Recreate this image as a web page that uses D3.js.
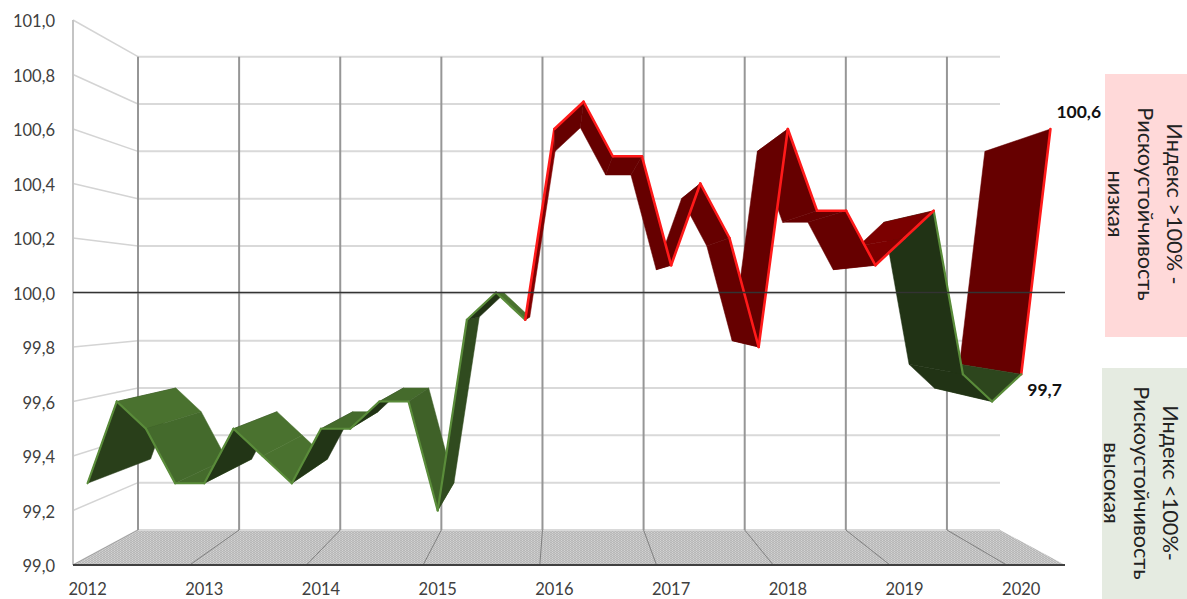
<!DOCTYPE html>
<html>
<head>
  <meta charset="utf-8">
  <title>index</title>
  <script src="https://d3js.org/d3.v7.min.js"></script>
  <style>
    html, body { margin: 0; padding: 0; background: #fff; overflow: hidden; }
    text { font-family: Lato, "Open Sans", sans-serif; }
  </style>
</head>
<body>
  <svg width="1187" height="599" id="mainsvg"></svg>
  <script>
    // quarterly index, 2012 Q1 .. 2020 Q2
    const values = [
      99.3, 99.6, 99.5, 99.3,
      99.3, 99.5, 99.4, 99.3,
      99.5, 99.5, 99.6, 99.6,
      99.2, 99.9, 100.0, 99.9,
      100.6, 100.7, 100.5, 100.5,
      100.1, 100.4, 100.2, 99.8,
      100.6, 100.3, 100.3, 100.1,
      100.2, 100.3, 99.7, 99.6,
      99.7, 100.6
    ];
    // 1 = segment starting at that quarter is in the high-index series
    const highSegment = [
      0, 0, 0, 0, 0, 0, 0, 0, 0, 0, 0, 0, 0, 0, 0,
      1, 1, 1, 1, 1, 1, 1, 1, 1, 1, 1, 1, 1, 1,
      0, 0, 0,
      1
    ];
    const years = ['2012', '2013', '2014', '2015', '2016', '2017', '2018', '2019', '2020'];
    const valueTicks = [99, 99.2, 99.4, 99.6, 99.8, 100, 100.2, 100.4, 100.6, 100.8, 101];
    const threshold = 100;
    const highLabels = ['Индекс >100% -', 'Рискоустойчивость', 'низкая'];
    const lowLabels = ['Индекс <100%-', 'Рискоустойчивость', 'высокая'];
    const endLabels = [{ i: 33, text: '100,6' }, { i: 32, text: '99,7' }];

    let svg = d3.select('#mainsvg');
    const idx = d3.range(values.length);

    // front plane and back wall of the 3d box
    const xFront = d3.scaleBand().domain(idx).range([73, 1065]);
    const xBack = d3.scaleBand().domain(idx).range([138, 997.5]);
    const yFront = d3.scaleLinear().domain([99, 101]).range([565, 20]);
    const yBack = d3.scaleLinear().domain([99, 101]).range([530, 56.7]);

    const front = i => [xFront(i) + xFront.bandwidth() / 2, yFront(values[i])];
    const back = i => [xBack(i) + xBack.bandwidth() / 2, yBack(values[i])];
    const comma = v => d3.format('.1f')(v).replace('.', ',');

    const line = (g, x1, y1, x2, y2, color, w) => g.append('line')
      .attr('x1', x1).attr('y1', y1).attr('x2', x2).attr('y2', y2)
      .attr('stroke', color).attr('stroke-width', w);

    // floor stipple
    const pat = svg.append('defs').append('pattern').attr('id', 'stipple')
      .attr('width', 3).attr('height', 2).attr('patternUnits', 'userSpaceOnUse');
    pat.append('rect').attr('width', 3).attr('height', 2).attr('fill', '#b8b8b8');
    pat.append('rect').attr('width', 1).attr('height', 1).attr('fill', '#d4d4d4');
    pat.append('rect').attr('x', 1.5).attr('y', 1).attr('width', 1).attr('height', 1).attr('fill', '#d4d4d4');

    const walls = svg.append('g');
    walls.append('path')
      .attr('d', d3.line()([[73, 565], [1065, 565], [1000, 530], [138, 530]]) + 'Z')
      .attr('fill', 'url(#stipple)');

    valueTicks.forEach(v => {
      line(walls, 73, yFront(v), 138, yBack(v), '#d4d4d4', 1.5);
      line(walls, 138, yBack(v), 1000, yBack(v), '#d9d9d9', 2);
    });

    // year gridlines, every 4th band
    idx.filter(i => i % 4 == 0).forEach(i => {
      if (i > 0) line(walls, xFront(i), 565, xBack(i), 530, '#808080', 1);
      line(walls, xBack(i), yBack(101), xBack(i), 530, '#969696', 2);
    });
    line(walls, 73, 20, 73, 565, '#c4c4c4', 2);
    line(walls, 73, 565, 138, 530, '#a0a0a0', 1);

    // ribbon
    const light = [0.5, 0.86];
    const quads = idx.slice(0, -1).map(i => {
      const f0 = front(i), f1 = front(i + 1), b1 = back(i + 1), b0 = back(i);
      const pts = [f0, f1, b1, b0];
      const area = d3.polygonArea(pts); // > 0 when we look at the upper side
      const dx = f1[0] - f0[0], dy = f0[1] - f1[1], len = Math.hypot(dx, dy);
      const side = area > 0 ? 1 : -1;
      const lit = Math.max(0, (-dy / len * light[0] + dx / len * light[1]) * side);
      const high = highSegment[i] == 1;
      const fill = high
        ? d3.rgb(102 * (1 + 0.7 * lit), 0, 0)
        : d3.rgb(33 * (1 + 1.27 * lit), 51 * (1 + 1.27 * lit), 21 * (1 + 1.27 * lit));
      return { pts, fill, high, mid: (f0[0] + f1[0]) / 2 };
    });

    // far from the centre of view goes first
    const cx = 569;
    quads.sort((a, b) => Math.abs(b.mid - cx) - Math.abs(a.mid - cx));

    const ribbon = svg.append('g');
    quads.forEach(q => {
      ribbon.append('path')
        .attr('d', d3.line()(q.pts) + 'Z')
        .attr('fill', q.fill).attr('stroke', q.fill).attr('stroke-width', 0.5);
      ribbon.append('path')
        .attr('d', d3.line()(q.pts.slice(0, 2)))
        .attr('fill', 'none')
        .attr('stroke', q.high ? '#ff1a1a' : '#5a8c3a')
        .attr('stroke-width', q.high ? 2.6 : 2.2).attr('stroke-linecap', 'round');
    });

    // zero line and base
    line(svg, 73, yFront(threshold), 1065, yFront(threshold), '#333', 1.5);
    line(svg, 73, 565, 1065, 565, '#404040', 2);

    // axes
    const yAxis = svg.append('g').attr('transform', 'translate(60,1.5)')
      .call(d3.axisLeft(yFront).tickValues(valueTicks).tickSize(0).tickPadding(5).tickFormat(comma));
    const xAxis = svg.append('g').attr('transform', 'translate(0,580)')
      .call(d3.axisBottom(xFront).tickValues(idx.filter(i => i % 4 == 0)).tickSize(0).tickPadding(3)
        .tickFormat(i => years[i / 4]));
    [yAxis, xAxis].forEach(a => {
      a.select('.domain').remove();
      a.selectAll('text').attr('font-size', 16.5).attr('fill', '#404040');
    });

    // end labels
    endLabels.forEach(d => {
      const p = front(d.i);
      svg.append('text')
        .attr('x', p[0] + 6)
        .attr('y', d.i == 33 ? p[1] - 11 : p[1] + 22)
        .attr('font-size', 17.5).attr('font-weight', 'bold').attr('fill', '#111')
        .text(d.text);
    });

    // side boxes
    const box = (x, y, w, h, color, labels, tx, ty) => {
      svg.append('rect').attr('x', x).attr('y', y).attr('width', w).attr('height', h).attr('fill', color);
      const g = svg.append('g').attr('transform', `translate(${tx},${ty}) rotate(90)`);
      labels.forEach((t, i) => {
        g.append('text').attr('x', 0).attr('y', i * 29.5)
          .attr('text-anchor', 'middle').attr('dominant-baseline', 'central')
          .attr('font-size', 21.7).attr('fill', '#222').text(t);
      });
    };
    box(1105, 74, 82, 263, '#ffd9d9', highLabels, 1175, 204);
    box(1102, 368, 85, 231, '#e5ebe1', lowLabels, 1171, 483);
  </script>
</body>
</html>
